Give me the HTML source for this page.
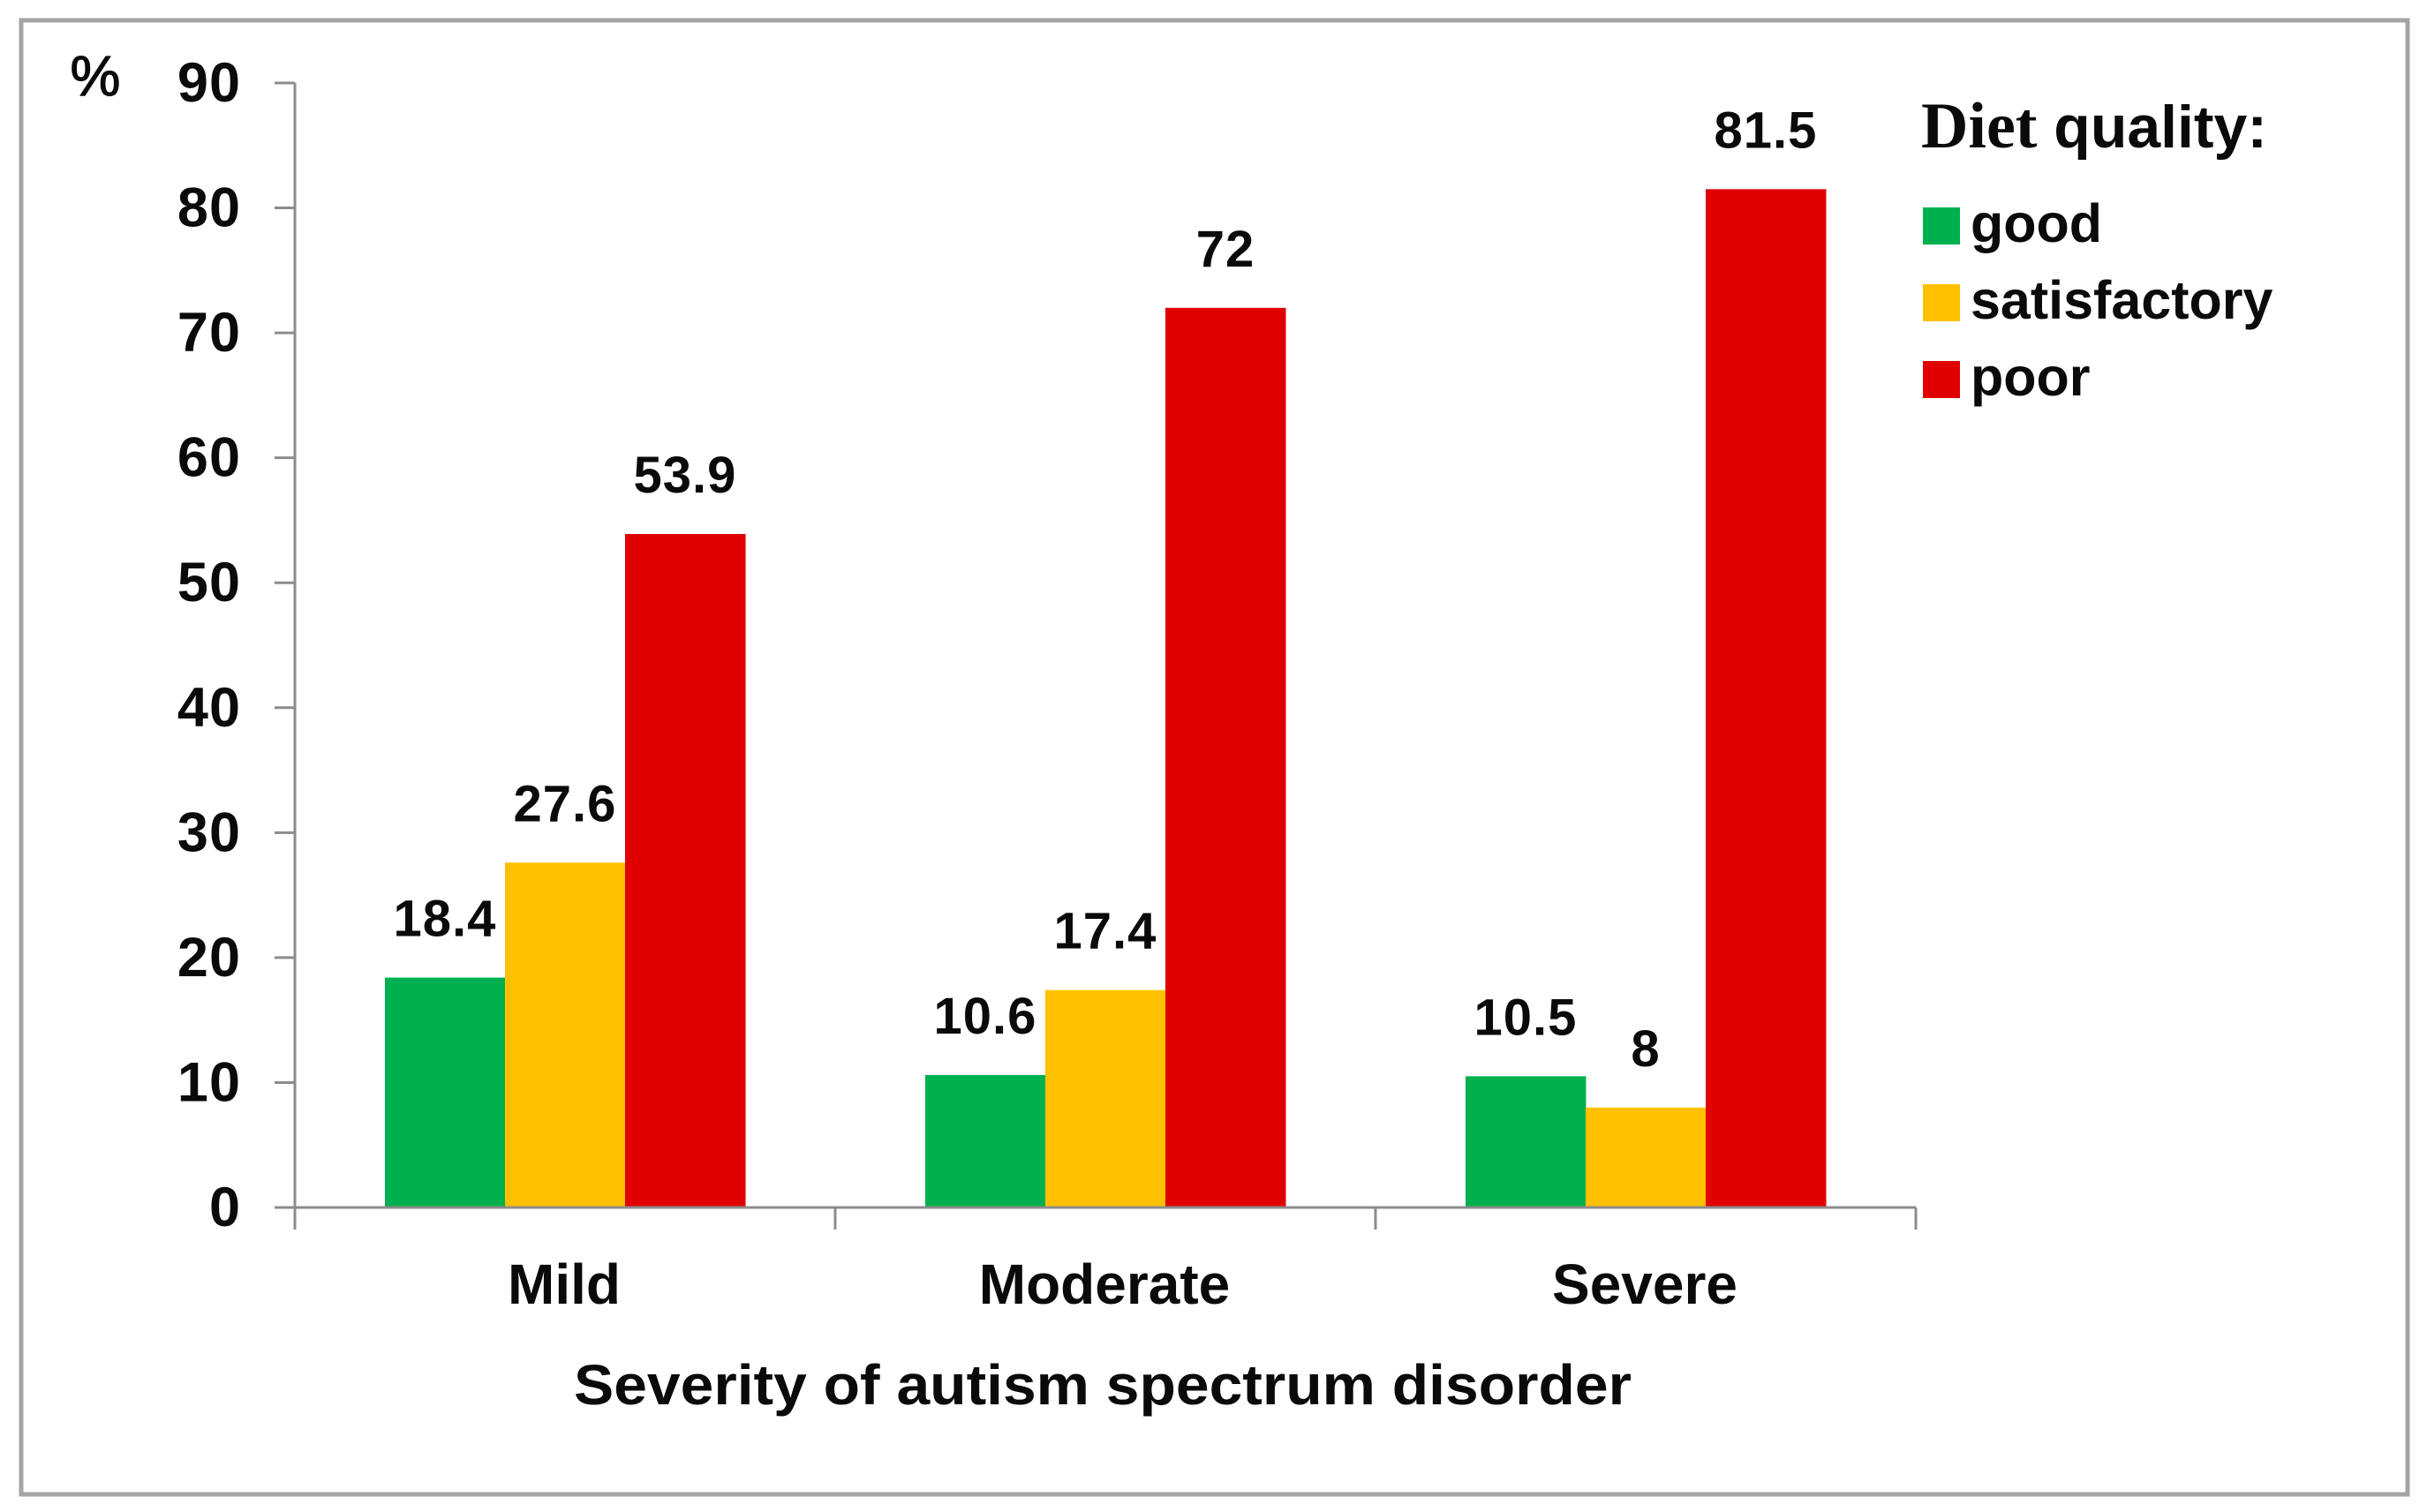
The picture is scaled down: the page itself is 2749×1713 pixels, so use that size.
<!DOCTYPE html>
<html lang="en">
<head>
<meta charset="utf-8">
<title>Diet quality by severity of autism spectrum disorder</title>
<style>
  html, body { margin: 0; padding: 0; background: #fff; }
  svg { display: block; }
  text { font-family: "Liberation Sans", sans-serif; fill: #0a0a0a; }
</style>
</head>
<body>
<svg id="chart" xmlns="http://www.w3.org/2000/svg" width="2749" height="1713" viewBox="0 0 2749 1713">
  <rect x="0" y="0" width="2749" height="1713" fill="#ffffff"/>
  <rect x="24" y="23" width="2703" height="1670" fill="none" stroke="#a4a4a4" stroke-width="5"/>
  <text x="108" y="108" text-anchor="middle" font-size="64" stroke="#0a0a0a" stroke-width="1.2">%</text>
  <text x="1249" y="1591" text-anchor="middle" font-size="64" font-weight="700" textLength="1198" lengthAdjust="spacingAndGlyphs">Severity of autism spectrum disorder</text>
  <text x="2176" y="167" font-size="68" font-weight="700" textLength="392" lengthAdjust="spacingAndGlyphs"><tspan font-size="74" style="font-family:'Liberation Serif',serif">Diet</tspan> quality:</text>
  <g id="plot"></g>
  <g id="legend"></g>
</svg>
<script>
const categories = ["Mild", "Moderate", "Severe"];
const seriesNames = ["good", "satisfactory", "poor"];
const goodValues = [18.4, 10.6, 10.5];
const satisfactoryValues = [27.6, 17.4, 8];
const poorValues = [53.9, 72, 81.5];
const seriesColors = ["#00b04f", "#ffc000", "#e00000"];
const yTicks = [0, 10, 20, 30, 40, 50, 60, 70, 80, 90];

const NS = "http://www.w3.org/2000/svg";
const plot = document.getElementById("plot");
const legend = document.getElementById("legend");
const allSeries = [goodValues, satisfactoryValues, poorValues];

const xLeft = 334, xRight = 2170, yZero = 1368, yTop = 94, yMax = 90;
const catWidth = (xRight - xLeft) / categories.length;
const barWidth = catWidth / 4.5;

function yScale(v) { return yZero - (v / yMax) * (yZero - yTop); }
function xBand(i) { return xLeft + catWidth * i; }
function xBar(c, s) { return xBand(c) + catWidth / 2 + (s - allSeries.length / 2) * barWidth; }

function make(tag, attrs, parent) {
  const el = document.createElementNS(NS, tag);
  Object.keys(attrs).forEach(k => el.setAttribute(k, attrs[k]));
  parent.appendChild(el);
  return el;
}

// bars and value labels
allSeries.forEach((values, s) => {
  values.forEach((v, c) => {
    const bar = make("rect", { x: xBar(c, s), y: yScale(v), width: barWidth + 0.5, height: yZero - yScale(v), fill: seriesColors[s] }, plot);
    
    
    const label = make("text", { x: xBar(c, s) + barWidth / 2, y: yScale(v) - 47, "text-anchor": "middle", "font-size": 58, "font-weight": 700, "letter-spacing": 1 }, plot);
    label.textContent = String(v);
    
    
  });
});

// y axis
const yAxisLine = make("line", { x1: xLeft, y1: yTop, x2: xLeft, y2: yZero + 25, stroke: "#8c8c8c", "stroke-width": 3 }, plot);


yTicks.forEach(t => {
  const tick = make("line", { x1: xLeft - 23, y1: yScale(t), x2: xLeft, y2: yScale(t), stroke: "#8c8c8c", "stroke-width": 3 }, plot);
  
  
  const label = make("text", { x: 273, y: yScale(t) + 21, "text-anchor": "end", "font-size": 63, "font-weight": 700, "letter-spacing": 1 }, plot);
  label.textContent = String(t);
  
  
});

// x axis
const xAxisLine = make("line", { x1: xLeft - 23, y1: yZero, x2: xRight, y2: yZero, stroke: "#8c8c8c", "stroke-width": 3 }, plot);


for (let i = 1; i <= categories.length; i++) {
  const tick = make("line", { x1: xBand(i), y1: yZero, x2: xBand(i), y2: yZero + 25, stroke: "#8c8c8c", "stroke-width": 3 }, plot);
  
  
}
categories.forEach((name, i) => {
  const label = make("text", { x: xBand(i) + catWidth / 2 - 1, y: 1477, "text-anchor": "middle", "font-size": 64, "font-weight": 700 }, plot);
  label.textContent = name;
  
  
});

// legend
seriesNames.forEach((name, s) => {
  const rowY = 235 + s * 87;
  const swatch = make("rect", { x: 2178, y: rowY, width: 42, height: 42, fill: seriesColors[s] }, legend);
  
  
  const label = make("text", { x: 2232, y: rowY + 39, "font-size": 61, "font-weight": 700 }, legend);
  label.textContent = name;
  
  
});
</script>
</body>
</html>
